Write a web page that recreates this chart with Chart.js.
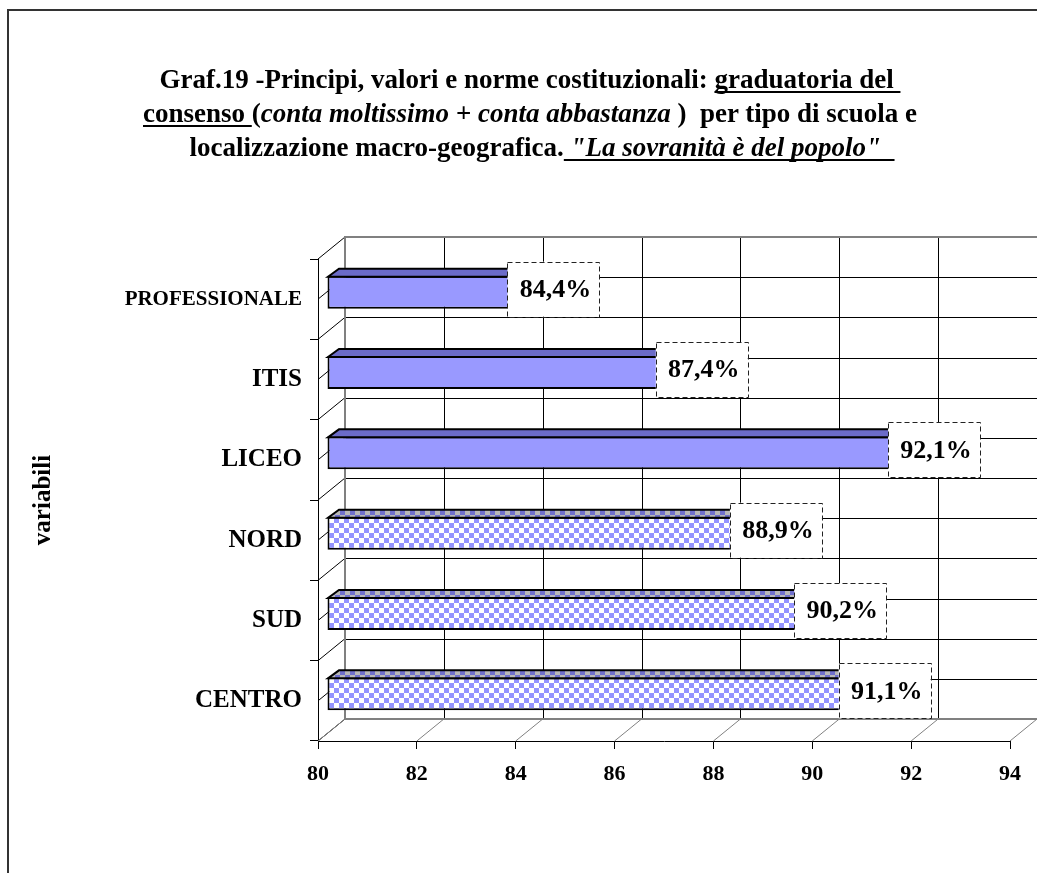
<!DOCTYPE html>
<html><head><meta charset="utf-8">
<script src="https://cdn.jsdelivr.net/npm/chart.js@4.4.0/dist/chart.umd.min.js"></script>
<style>
html,body{margin:0;padding:0;background:#fff;}
#wrap{position:relative;width:1037px;height:873px;overflow:hidden;background:#fff;}
#frame{position:absolute;left:7px;top:9px;width:1100px;height:900px;border-top:2px solid #333;border-left:2px solid #333;}
#title{position:absolute;left:0;width:1060px;top:62px;text-align:center;font-family:"Liberation Serif","Times New Roman",serif;font-weight:bold;font-size:27px;line-height:34px;color:#000;white-space:nowrap;}
#title u{text-decoration-thickness:2px;text-underline-offset:3px;text-decoration-skip-ink:none;}
#title .l3{position:relative;left:12px;}
canvas{position:absolute;left:0;top:0;}
</style></head>
<body>
<div id="wrap">
<div id="frame"></div>
<canvas id="c" width="1037" height="873"></canvas>
<div id="title">Graf.19 -Principi, valori e norme costituzionali: <u>graduatoria del&nbsp;</u><br><u>consenso&nbsp;</u>(<i>conta moltissimo + conta abbastanza</i> )&nbsp; per tipo di scuola e<br><span class="l3">localizzazione macro-geografica.<u><i> "La sovranità è del popolo"&nbsp;&nbsp;</i></u></span></div>
</div>
<script>
const categories = ['PROFESSIONALE','ITIS','LICEO','NORD','SUD','CENTRO'];
const values = [84.4, 87.4, 92.1, 88.9, 90.2, 91.1];
const patterned = [false, false, false, true, true, true];
const xMin = 80, xMax = 94, xStep = 2;
const axisTitle = 'variabili';

const FONT = '"Liberation Serif","Times New Roman",serif';
const D = {dx: 27, dy: -22};   // wall depth
const B = {dx: 9, dy: -7};     // bar front offset
const T = {dx: 11, dy: -8};    // bar depth

function makePattern(c1, c2, size) {
  const p = document.createElement('canvas');
  p.width = p.height = size * 2;
  const g = p.getContext('2d');
  g.fillStyle = c2; g.fillRect(0, 0, size * 2, size * 2);
  g.fillStyle = c1; g.fillRect(0, 0, size, size); g.fillRect(size, size, size, size);
  return g.createPattern(p, 'repeat');
}
const frontPattern = makePattern('#9494FF', '#FFFFFF', 5);
const topPattern = makePattern('#7070CC', '#B8B8B8', 5);

const threeD = {
  id: 'threeD',
  beforeDatasetsDraw(chart) {
    const {ctx, chartArea: a, scales: {x, y}} = chart;
    const n = categories.length;
    const half = (y.getPixelForValue(1) - y.getPixelForValue(0)) / 2;
    const hs = [];
    for (let i = 0; i < n; i++) {
      const c = y.getPixelForValue(i);
      hs.push(c - half); hs.push(c);
    }
    hs.push(y.getPixelForValue(n - 1) + half);
    const bl = a.left + D.dx, br = a.right + D.dx, bt = a.top + D.dy, bb = a.bottom + D.dy;
    ctx.save();
    ctx.lineWidth = 1;
    ctx.strokeStyle = '#000';
    hs.forEach((yy, k) => {
      if (k === 0 || k === hs.length - 1) return;
      ctx.beginPath(); ctx.moveTo(bl, Math.round(yy + D.dy) + 0.5); ctx.lineTo(br, Math.round(yy + D.dy) + 0.5); ctx.stroke();
    });
    for (let v = xMin + xStep; v <= xMax; v += xStep) {
      const px = Math.round(x.getPixelForValue(v) + D.dx) + 0.5;
      ctx.beginPath(); ctx.moveTo(px, bt); ctx.lineTo(px, bb); ctx.stroke();
    }
    hs.forEach((yy) => {
      ctx.beginPath(); ctx.moveTo(a.left, yy); ctx.lineTo(a.left + D.dx, yy + D.dy); ctx.stroke();
    });
    ctx.strokeStyle = '#808080';
    for (let v = xMin; v <= xMax; v += xStep) {
      const px = x.getPixelForValue(v);
      ctx.beginPath(); ctx.moveTo(px, a.bottom); ctx.lineTo(px + D.dx, a.bottom + D.dy); ctx.stroke();
    }
    ctx.lineWidth = 2;
    ctx.beginPath(); ctx.moveTo(bl, bb); ctx.lineTo(br, bb); ctx.stroke();
    ctx.beginPath(); ctx.moveTo(bl, bb); ctx.lineTo(bl, bt); ctx.lineTo(br, bt); ctx.stroke();
    ctx.restore();
    ctx.save();
    ctx.translate(B.dx, B.dy);
  },
  afterDatasetsDraw(chart) {
    const {ctx, scales: {x}} = chart;
    ctx.restore();
    const meta = chart.getDatasetMeta(0);
    const basePx = x.getPixelForValue(xMin);
    ctx.save();
    meta.data.forEach((bar, i) => {
      const {x: xe, y: yc, height} = bar.getProps(['x', 'y', 'height'], true);
      const L = basePx + B.dx, R = xe + B.dx, Tp = yc - height / 2 + B.dy, Bt = yc + height / 2 + B.dy;
      ctx.lineWidth = 2; ctx.strokeStyle = '#000'; ctx.lineJoin = 'miter';
      ctx.beginPath();
      ctx.moveTo(L + 1, Tp + 1); ctx.lineTo(L + 1 + T.dx, Tp + 1 + T.dy); ctx.lineTo(R + T.dx, Tp + 1 + T.dy); ctx.lineTo(R, Tp + 1); ctx.closePath();
      ctx.fillStyle = patterned[i] ? topPattern : '#6B6BC8';
      ctx.fill(); ctx.stroke();
      ctx.beginPath();
      ctx.moveTo(R, Tp + 1); ctx.lineTo(R + T.dx, Tp + 1 + T.dy); ctx.lineTo(R + T.dx, Bt - 1 + T.dy); ctx.lineTo(R, Bt - 1); ctx.closePath();
      ctx.fillStyle = '#5050A8'; ctx.fill(); ctx.stroke();
      const label = values[i].toFixed(1).replace('.', ',') + '%';
      const cx = xe + 18, cy = yc - 10, w = 92, h = 55;
      ctx.fillStyle = '#fff';
      ctx.fillRect(cx - w / 2, cy - h / 2, w, h);
      ctx.setLineDash([5, 3]); ctx.lineWidth = 1; ctx.strokeStyle = '#222';
      ctx.strokeRect(Math.round(cx - w / 2) + 0.5, Math.round(cy - h / 2) + 0.5, w, h);
      ctx.setLineDash([]);
      ctx.fillStyle = '#000';
      ctx.font = 'bold 26px ' + FONT;
      ctx.textAlign = 'center'; ctx.textBaseline = 'middle';
      ctx.fillText(label, cx + 2, cy + 1);
    });
    ctx.restore();
  }
};

new Chart(document.getElementById('c'), {
  type: 'bar',
  data: {
    labels: categories,
    datasets: [{
      data: values,
      base: xMin,
      backgroundColor: patterned.map(p => p ? frontPattern : '#9999FF'),
      borderColor: '#000', borderWidth: 2, borderSkipped: false,
      barPercentage: 0.41, categoryPercentage: 1
    }]
  },
  options: {
    indexAxis: 'y', responsive: false, animation: false, devicePixelRatio: 1,
    layout: {padding: {left: 0, top: 259, right: 27, bottom: 0}},
    plugins: {legend: {display: false}, tooltip: {enabled: false}, title: {display: false}},
    scales: {
      x: {
        min: xMin, max: xMax,
        ticks: {stepSize: xStep, font: {family: FONT, weight: 'bold', size: 22}, color: '#000', padding: 12, maxRotation: 0, autoSkip: false},
        grid: {drawOnChartArea: false, drawTicks: true, tickLength: 8, color: '#000'},
        border: {display: true, color: '#000', width: 1},
        afterFit: s => { s.height = 132; }
      },
      y: {
        ticks: {
          font: c => ({family: FONT, weight: 'bold', size: (categories[c.index] || '').length > 10 ? 21 : 25}),
          color: '#000', padding: 8, autoSkip: false
        },
        grid: {drawOnChartArea: false, drawTicks: true, tickLength: 8, color: '#000', offset: true},
        border: {display: true, color: '#000', width: 1},
        title: {display: true, text: axisTitle, font: {family: FONT, weight: 'bold', size: 25}, color: '#000', padding: {top: 29, bottom: 0}},
        afterFit: s => { s.width = 318; }
      }
    }
  },
  plugins: [threeD]
});
</script>
</body></html>
